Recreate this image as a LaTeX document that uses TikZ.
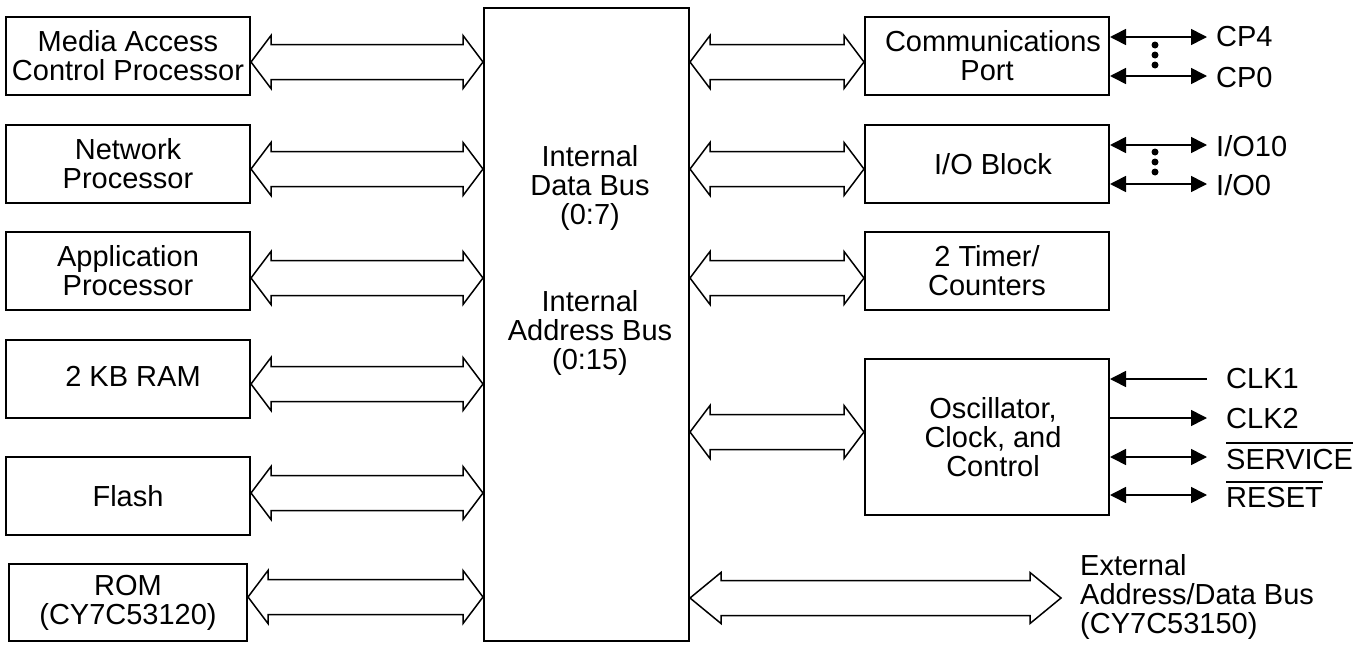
\documentclass[tikz,border=0pt]{standalone}
\usepackage{fontspec}
\setmainfont{Liberation Sans}
\usetikzlibrary{calc,arrows.meta}
\tikzset{
  box/.style={draw, line width=2pt, rectangle, align=center, inner sep=0pt, minimum width=244pt, minimum height=78pt},
  hollow/.style={draw, line width=1.5pt, line join=miter},
  sig/.style={line width=1.6pt, {Triangle[length=16pt,width=16pt]}-{Triangle[length=16pt,width=16pt]}},
  sigin/.style={line width=1.6pt, {Triangle[length=16pt,width=16pt]}-},
  sigout/.style={line width=1.6pt, -{Triangle[length=16pt,width=16pt]}},
  lab/.style={anchor=west, inner sep=0pt},
  dot/.style={fill, circle, inner sep=0pt, minimum size=7pt}
}
\newcommand\hollowarrow[5]{%
  \draw[hollow] (#1) -- ++(#5,#4) -- ++(0,#3-#4) -- ($(#2)+(-#5,#3)$) -- ++(0,#4-#3) -- (#2)
    -- ++(-#5,-#4) -- ++(0,#4-#3) -- ($(#1)+(#5,-#3)$) -- ++(0,#3-#4) -- cycle;}
\begin{document}
\begin{tikzpicture}[x=1pt,y=-1pt,font=\fontsize{29}{29}\selectfont]
\useasboundingbox (0,0) rectangle (1358,648);
% left boxes
\node[box] (mac) at (128,56) {Media Access\\Control Processor};
\node[box] (np) at (128,164) {Network\\Processor};
\node[box] (ap) at (128,271) {Application\\Processor};
\node[box] (ram) at (128,379) {\raisebox{6pt}{\hspace{10pt}2 KB RAM}};
\node[box] (flash) at (128,496) {Flash};
\node[box, minimum width=238pt, minimum height=77pt] (rom) at (128,602.5) {ROM\\(CY7C53120)};
% central bus
\node[box, minimum width=205pt, minimum height=633pt] (bus) at (586.5,324.5) {};
\node[align=center, inner sep=0pt] (dbus) at (590,188) {Internal\\Data Bus\\(0:7)};
\node[align=center, inner sep=0pt] (abus) at (590,333) {Internal\\Address Bus\\(0:15)};
% right boxes
\node[box] (comm) at (987,56) {\hspace{12pt}Communications\\Port};
\node[box] (io) at (987,164) {\hspace{12pt}I/O Block};
\node[box] (tmr) at (987,271) {2 Timer/\\Counters};
\node[box, minimum height=156pt] (osc) at (987,437) {\hspace{12pt}Oscillator,\\\hspace{12pt}Clock, and\\\hspace{12pt}Control};
% hollow bus arrows, left
\foreach \n/\y in {mac/62, np/169, ap/278, ram/384, flash/493, rom/597}{
  \coordinate (L\n) at (\n.east |- 0,\y);
  \coordinate (R\n) at (bus.west |- 0,\y);
  \hollowarrow{L\n}{R\n}{17.5}{26.5}{20}
}
% hollow bus arrows, right
\foreach \n/\y in {comm/62, io/169, tmr/278, osc/432}{
  \coordinate (A\n) at (bus.east |- 0,\y);
  \coordinate (B\n) at (\n.west |- 0,\y);
  \hollowarrow{A\n}{B\n}{17.5}{26.5}{20}
}
% external bus
\coordinate (Aext) at (bus.east |- 0,598);
\coordinate (Bext) at (1061,598);
\hollowarrow{Aext}{Bext}{17.5}{25.5}{31}
\node[anchor=west, align=left, inner sep=0pt] (ext) at (1080,597) {External\\Address/Data Bus\\(CY7C53150)};
% communications port signals
\coordinate (cp4e) at (1207,37);
\coordinate (cp0e) at (1207,76);
\draw[sig] (comm.east |- cp4e) -- (cp4e);
\draw[sig] (comm.east |- cp0e) -- (cp0e);
\node[lab] (cp4) at (1216,37) {CP4};
\node[lab] (cp0) at (1216,78) {CP0};
\node[dot] (d1) at (1155,45) {};
\node[dot] (d2) at (1155,55) {};
\node[dot] (d3) at (1155,65) {};
% I/O signals
\coordinate (io10e) at (1207,145);
\coordinate (io0e) at (1207,184);
\draw[sig] (io.east |- io10e) -- (io10e);
\draw[sig] (io.east |- io0e) -- (io0e);
\node[lab] (io10) at (1216,146) {I/O10};
\node[lab] (io0) at (1216,185) {I/O0};
\node[dot] (d4) at (1155,152) {};
\node[dot] (d5) at (1155,162) {};
\node[dot] (d6) at (1155,172) {};
% oscillator signals
\coordinate (clk1e) at (1207,379);
\coordinate (clk2e) at (1207,418);
\coordinate (svce) at (1207,457);
\coordinate (rste) at (1207,495);
\draw[sigin] (osc.east |- clk1e) -- (clk1e);
\draw[sigout] (osc.east |- clk2e) -- (clk2e);
\draw[sig] (osc.east |- svce) -- (svce);
\draw[sig] (osc.east |- rste) -- (rste);
\node[lab] (clk1) at (1226,379) {CLK1};
\node[lab] (clk2) at (1226,419) {CLK2};
\node[lab] (svc) at (1226,460) {SERVICE};
\node[lab] (rst) at (1226,498) {RESET};
\draw[line width=1.5pt] (svc.west |- 0,443) -- (svc.east |- 0,443);
\draw[line width=1.5pt] (rst.west |- 0,482) -- (rst.east |- 0,482);
\end{tikzpicture}
\end{document}
